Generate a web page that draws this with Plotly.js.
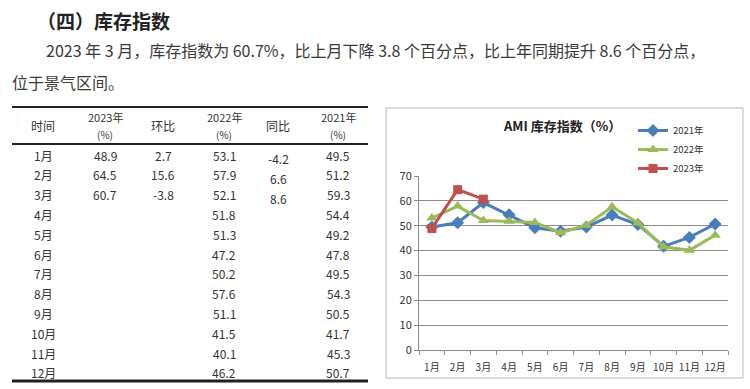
<!DOCTYPE html>
<html>
<head>
<meta charset="utf-8">
<script src="https://cdn.plot.ly/plotly-3.0.1.min.js"></script>
<style>html,body{margin:0;padding:0;background:#fff;}#chart{width:750px;height:389px;}</style>
</head>
<body>
<div id="chart"></div>
<script>
// ---- data ----
var months = ["1月","2月","3月","4月","5月","6月","7月","8月","9月","10月","11月","12月"];
var values2021 = [49.5, 51.2, 59.3, 54.4, 49.2, 47.8, 49.5, 54.3, 50.5, 41.7, 45.3, 50.7];
var values2022 = [53.1, 57.9, 52.1, 51.8, 51.3, 47.2, 50.2, 57.6, 51.1, 41.5, 40.1, 46.2];
var values2023 = [48.9, 64.5, 60.7];
var momChange = [2.7, 15.6, -3.8];      // 环比
var yoyChange = [-4.2, 6.6, 8.6];       // 同比
var tableHeaders = ["时间", "2023年", "环比", "2022年", "同比", "2021年"];
var seriesNames = ["2021年", "2022年", "2023年"];

var W = 750, H = 389;
function px(x){ return x / W; }
function py(y){ return 1 - y / H; }
var CJK = "Noto Sans CJK SC";
var annotations = [];
function txt(x, y, text, size, opt){
  opt = opt || {};
  annotations.push({
    xref: "paper", yref: "paper", x: px(x), y: py(y),
    xanchor: opt.xanchor || "center", yanchor: "middle",
    text: text, showarrow: false, borderpad: 0,
    font: {family: CJK, size: size, color: opt.color || "#333333", weight: opt.weight || 400}
  });
}

// heading and paragraph
txt(36, 21, "（四）库存指数", 19, {xanchor: "left", weight: 700, color: "#222222"});
txt(45, 50, "2023 年 3 月，库存指数为 60.7%，比上月下降 3.8 个百分点，比上年同期提升 8.6 个百分点，", 16, {xanchor: "left", color: "#3a3a3a"});
txt(11, 82, "位于景气区间。", 16, {xanchor: "left", color: "#3a3a3a"});

// table
var colX = [43, 105, 163, 224, 278, 338];
txt(colX[0], 126, tableHeaders[0], 12);
txt(colX[1], 117, tableHeaders[1], 11);
txt(colX[1], 134.5, "(%)", 10);
txt(colX[2], 126, tableHeaders[2], 12);
txt(colX[3], 117, tableHeaders[3], 11);
txt(colX[3], 134.5, "(%)", 10);
txt(colX[4], 126, tableHeaders[4], 12);
txt(colX[5], 117, tableHeaders[5], 11);
txt(colX[5], 134.5, "(%)", 10);
var rowY0 = 155, rowH = 19.8;
for (var i = 0; i < months.length; i++) {
  var ry = rowY0 + i * rowH;
  txt(colX[0], ry, months[i], 12);
  if (i < values2023.length) txt(colX[1], ry, values2023[i].toFixed(1), 12);
  if (i < momChange.length) txt(colX[2], ry, momChange[i].toFixed(1), 12);
  txt(colX[3], ry, values2022[i].toFixed(1), 12);
  if (i < yoyChange.length) txt(colX[4], ry + 4, yoyChange[i].toFixed(1), 12);
  txt(colX[5], ry, values2021[i].toFixed(1), 12);
}

var shapes = [
  {type: "line", xref: "paper", yref: "paper", x0: px(12), x1: px(368), y0: py(107), y1: py(107), line: {color: "#222", width: 2}},
  {type: "line", xref: "paper", yref: "paper", x0: px(12), x1: px(368), y0: py(144), y1: py(144), line: {color: "#222", width: 2}},
  {type: "line", xref: "paper", yref: "paper", x0: px(12), x1: px(368), y0: py(381), y1: py(381), line: {color: "#222", width: 3}},
  {type: "rect", xref: "paper", yref: "paper", x0: px(386), x1: px(743), y0: py(108), y1: py(378), line: {color: "#b8b8b8", width: 1}}
];

// chart title
txt(562, 126, "AMI 库存指数（%）", 13, {weight: 700, color: "#222222"});

var colors = ["#4a7ebb", "#9bbb59", "#c0504d"];
var symbols = ["diamond", "triangle-up", "square"];
var sizes = [10, 10, 9];
var allSeries = [values2021, values2022, values2023];
var traces = allSeries.map(function(vals, k){
  return {
    type: "scatter", mode: "lines+markers", name: seriesNames[k],
    x: months.slice(0, vals.length), y: vals,
    line: {color: colors[k], width: 3},
    marker: {symbol: symbols[k], size: sizes[k], color: colors[k]}
  };
});

var layout = {
  width: W, height: H,
  margin: {l: 0, r: 0, t: 0, b: 0, pad: 0},
  paper_bgcolor: "#ffffff", plot_bgcolor: "#ffffff",
  font: {family: CJK, color: "#333"},
  showlegend: true,
  legend: {x: px(633), y: py(116), xanchor: "left", yanchor: "top",
           font: {size: 9.5, family: CJK, color: "#333"}, bgcolor: "rgba(0,0,0,0)",
           tracegroupgap: 0, itemwidth: 30},
  xaxis: {
    domain: [px(419), px(728)], type: "category", categoryarray: months, categoryorder: "array",
    range: [-0.5, 11.5], showgrid: false, zeroline: false,
    showline: true, linecolor: "#8c8c8c", linewidth: 1,
    ticks: "outside", tickson: "boundaries", ticklen: 4, tickcolor: "#8c8c8c",
    tickangle: 0, automargin: false, ticklabelstandoff: 8,
    tickfont: {size: 10, family: CJK, color: "#333"}, fixedrange: true
  },
  yaxis: {
    domain: [py(350), py(176)], range: [0, 70], dtick: 10,
    showgrid: true, gridcolor: "#8c8c8c", gridwidth: 1, zeroline: false,
    showline: true, linecolor: "#8c8c8c", linewidth: 1,
    ticks: "outside", ticklen: 4, tickcolor: "#8c8c8c", automargin: false,
    tickfont: {size: 11, family: CJK, color: "#333"}, fixedrange: true
  },
  annotations: annotations,
  shapes: shapes
};

Plotly.newPlot("chart", traces, layout, {staticPlot: true, displayModeBar: false});
</script>
</body>
</html>
